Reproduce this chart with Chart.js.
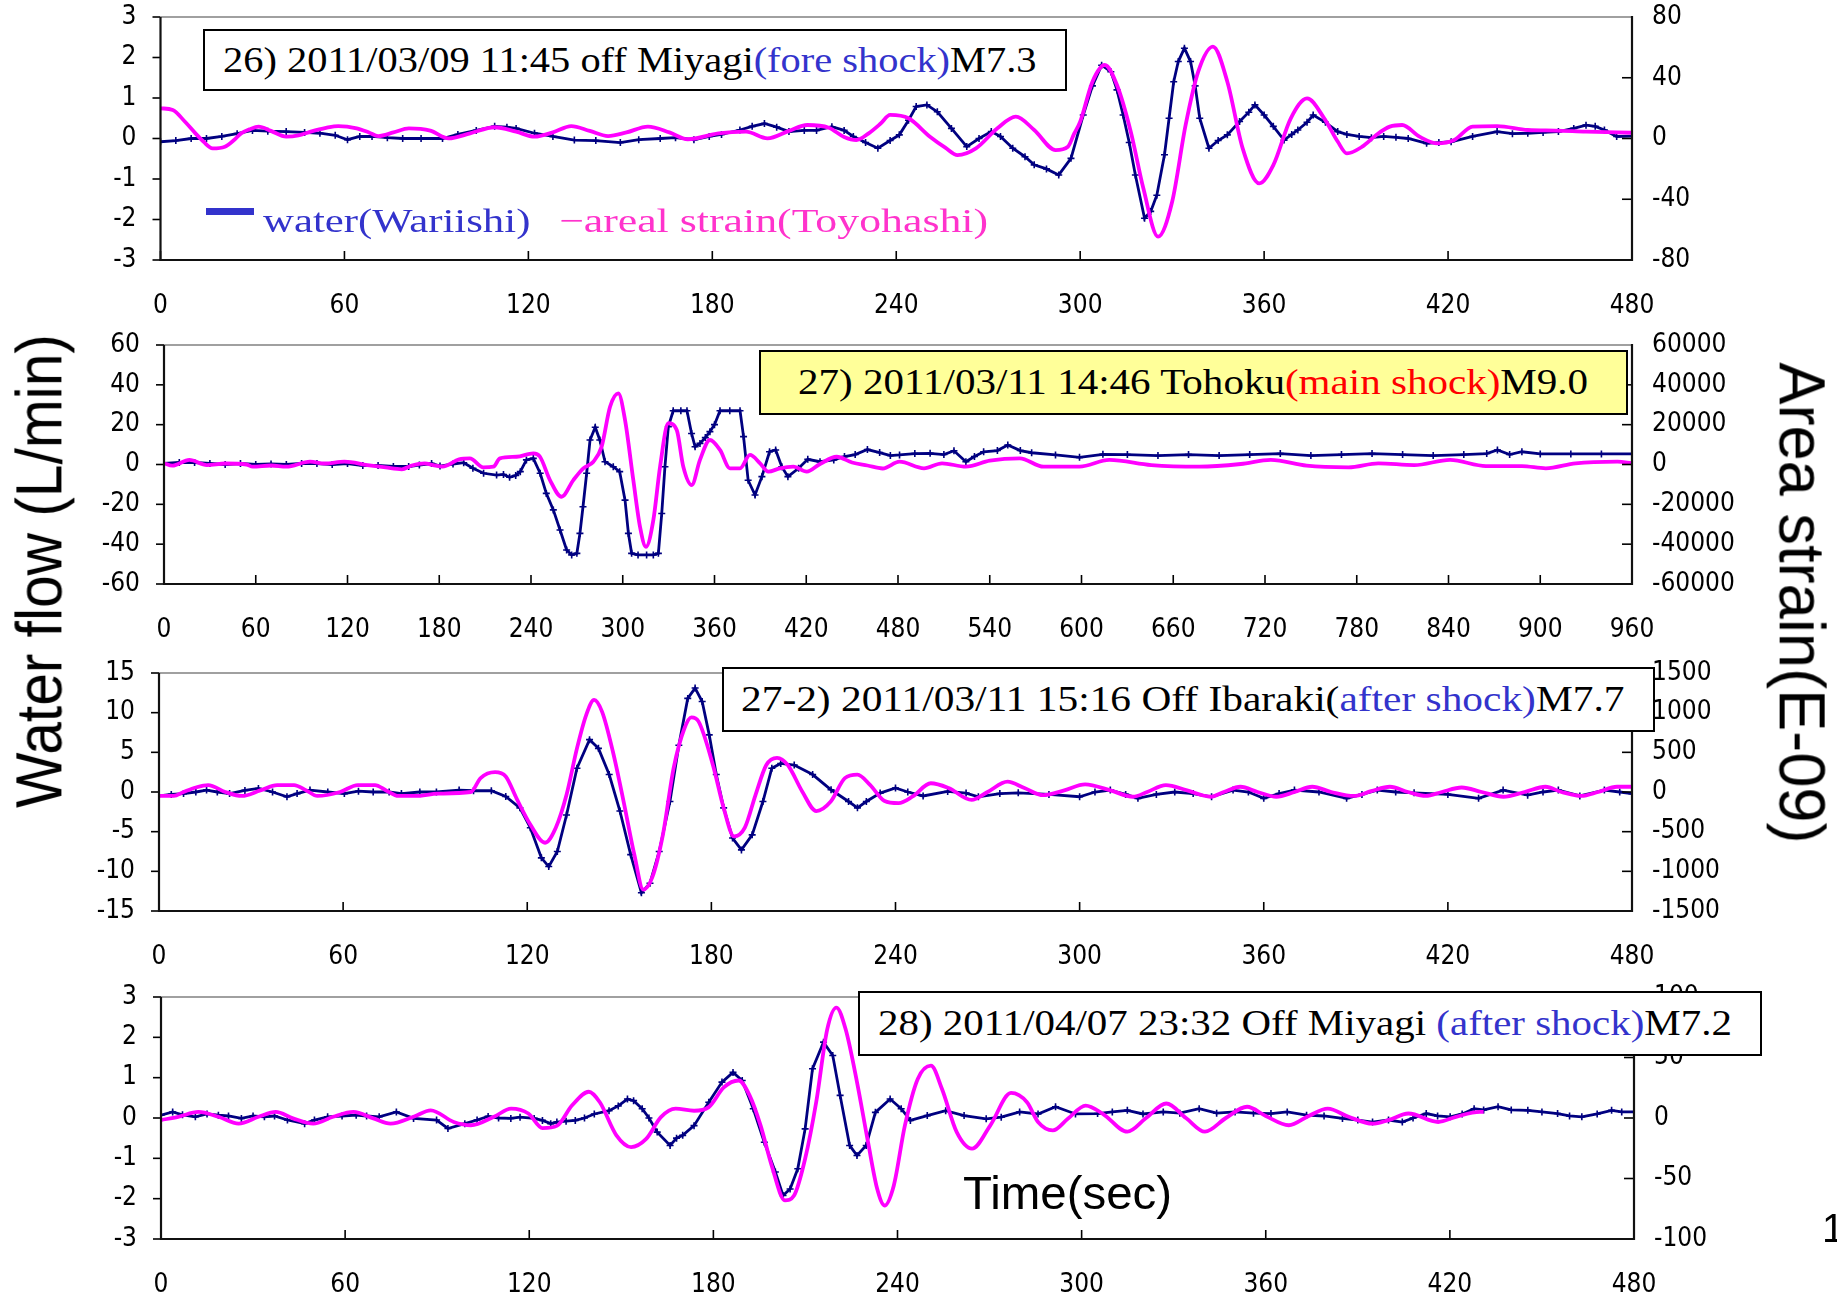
<!DOCTYPE html>
<html><head><meta charset="utf-8">
<script src="https://cdn.jsdelivr.net/npm/chart.js@4.4.1/dist/chart.umd.min.js"></script>
<style>
html,body{margin:0;padding:0;background:#fff;width:1837px;height:1301px;overflow:hidden;position:relative;}
canvas.pc{position:absolute;left:0;}
.box{position:absolute;box-sizing:border-box;border:2px solid #000;background:#fff;}
.fit{position:absolute;white-space:nowrap;font-family:"Liberation Serif","DejaVu Serif",serif;font-size:36px;line-height:1;transform-origin:0 50%;}
.title{position:absolute;white-space:nowrap;font-family:"Liberation Sans",Arial,sans-serif;line-height:1;color:#000;}
</style></head>
<body>
<canvas class="pc" id="c1"></canvas>
<canvas class="pc" id="c2"></canvas>
<canvas class="pc" id="c3"></canvas>
<canvas class="pc" id="c4"></canvas>

<div class="box" style="left:203px;top:29px;width:864px;height:62px;"></div>
<div class="box" style="left:759px;top:350px;width:869px;height:65px;background:#ffff99;"></div>
<div class="box" style="left:722px;top:667px;width:933px;height:65px;"></div>
<div class="box" style="left:858px;top:991px;width:904px;height:65px;"></div>

<span class="fit" data-l="223" data-w="814" data-cy="60">26) 2011/03/09 11:45 off Miyagi<span style="color:#3333cc">(fore shock)</span>M7.3</span>
<span class="fit" data-l="798" data-w="790" data-cy="382">27) 2011/03/11 14:46 Tohoku<span style="color:#ff0000">(main shock)</span>M9.0</span>
<span class="fit" data-l="741" data-w="884" data-cy="699">27-2) 2011/03/11 15:16 Off Ibaraki(<span style="color:#3333cc">after shock)</span>M7.7</span>
<span class="fit" data-l="878" data-w="854" data-cy="1023">28) 2011/04/07 23:32 Off Miyagi <span style="color:#3333cc">(after shock)</span>M7.2</span>

<div style="position:absolute;left:206px;top:208px;width:48px;height:7px;background:#3333cc;"></div>
<span class="fit" data-l="263" data-w="268" data-cy="221" style="color:#3333cc;font-size:34px;">water(Wariishi)</span>
<span class="fit" data-l="559" data-w="429" data-cy="221" style="color:#ff33cc;font-size:34px;">−areal strain(Toyohashi)</span>

<span class="title rot" data-cx="39" data-cy="571" data-len="474" data-rot="-90" style="font-size:64px;">Water flow (L/min)</span>
<span class="title rot" data-cx="1801" data-cy="603" data-len="481" data-rot="90" style="font-size:64px;">Area strain(E-09)</span>
<span class="title fit2" data-l="963" data-w="209" data-cy="1192" style="font-size:47px;">Time(sec)</span>
<span class="title" style="left:1822px;top:1208px;font-size:40px;">1</span>

<script>
// ---------------- DATA ----------------
const xTicks480 = [0,60,120,180,240,300,360,420,480];
const xTicks960 = [0,60,120,180,240,300,360,420,480,540,600,660,720,780,840,900,960];

// Panel 26) water flow (L/min), [sec, value]
const p1Water = [[0,-0.08],[5,-0.05],[10,0],[15,0],[20,0.05],[25,0.12],[30,0.2],[35,0.18],[41,0.17],[47,0.15],[52,0.13],[57,0.08],[61,-0.03],[65,0.05],[69,0.05],[74,0.02],[79,0],[85,0],[92,0],[97,0.1],[103,0.2],[109,0.3],[113,0.28],[116,0.25],[122,0.13],[128,0.05],[135,-0.04],[142,-0.05],[150,-0.1],[156,-0.03],[163,0],[168,0.02],[174,-0.03],[179,0.05],[183,0.1],[189,0.21],[193,0.3],[197,0.37],[201,0.28],[205,0.17],[210,0.2],[214,0.2],[219,0.29],[223,0.2],[226,0.05],[230,-0.1],[234,-0.24],[238,-0.05],[241,0.09],[244,0.45],[246.5,0.79],[250,0.83],[253.4,0.66],[258,0.25],[263,-0.2],[267,0],[271,0.17],[274,0.05],[278,-0.24],[282,-0.45],[285,-0.65],[289,-0.75],[293,-0.9],[297,-0.49],[301,0.58],[304,1.3],[307,1.81],[310,1.65],[312,1.2],[314,0.58],[316,-0.1],[318,-0.9],[321,-1.97],[323,-1.8],[325,-1.4],[327.5,-0.4],[329,0.5],[330.5,1.4],[332,1.9],[334,2.23],[336,1.9],[337.5,1.3],[339,0.5],[342,-0.24],[345,-0.05],[348,0.09],[352,0.42],[355,0.65],[357,0.83],[360,0.58],[363,0.3],[366.5,-0.04],[369,0.1],[371,0.21],[374,0.4],[376,0.58],[380,0.4],[384,0.17],[387,0.1],[391,0.05],[395,0.02],[399,0.05],[403,0.03],[407,0],[413,-0.12],[417,-0.1],[421,-0.08],[428,0.05],[436,0.17],[441,0.12],[446,0.13],[451,0.15],[456,0.17],[461,0.25],[465,0.33],[468,0.3],[471,0.21],[475,0.05],[480,0.06]];
// Panel 26) areal strain (E-09)
const p1Strain = [[0,19.9],[4,18.8],[8,11],[11.4,3.4],[14,-2],[17,-6.5],[21,-5.4],[24,-1],[26.3,3.4],[29,6],[32,7.8],[36,5],[41,1.2],[45,2],[49,4.5],[54,7],[58,8.2],[64,6.7],[68,4],[71,1.6],[76,4],[81,6.7],[88,5.2],[94,0.1],[101,3.4],[109,7.4],[116,4.5],[122,1.2],[128,4],[134,8.2],[140,5],[146,1.6],[152,4],[159,7.8],[166,4],[172,-0.5],[182,3.4],[191,4.5],[198,0.1],[205,5],[211,8.9],[218,7.1],[223,1],[227,-1],[231,3.4],[235,10],[238,15.5],[244,13.3],[251,1.2],[256,-6],[260,-10.9],[266,-6.5],[273,6.7],[279,14.4],[285,5.6],[292,-7.6],[296,-5.4],[298,3],[300,11.1],[304,37.4],[308,48.4],[312,35.2],[316.5,4.5],[320.6,-32.8],[325.4,-64.6],[330,-41.6],[334.4,8.9],[338.5,44],[343.3,60.5],[348,37.4],[353,-6.5],[358.4,-29.6],[363,-17.5],[368.7,13.3],[374,26.4],[379.6,13.3],[384,-2],[387,-9.8],[392,-5.4],[397,3],[401,7.8],[405,8.9],[410.7,1.2],[416.5,-3.2],[422,-1],[428,7.8],[436,8.2],[446,5.6],[455,5.2],[465,4.5],[480,3.8]];

// Panel 27) water flow
const p2Water = [[0,0.5],[10,1],[20,1],[30,0.5],[40,0],[50,0.5],[60,0],[70,0.3],[80,0],[90,0.5],[100,0.5],[110,0],[120,0.5],[130,-0.5],[140,-0.5],[150,-1],[160,-1],[167,-0.25],[175,0.5],[180.5,-0.8],[189,0.25],[196,0.9],[202,-1.9],[209,-4.4],[217.5,-5.3],[222,-5],[226,-6.4],[230,-5.5],[233,-3.6],[237,2.3],[241.5,3.1],[246,-4.4],[250,-14.5],[254.6,-22.8],[259,-32.9],[263.3,-42.9],[266.6,-45.4],[270,-44.6],[272,-34.6],[274,-21.2],[276.4,-4.4],[278.6,12.3],[282,18.7],[285,12.3],[288.4,1.4],[293.8,-1.1],[298,-3.6],[301.5,-17.9],[303.7,-34.6],[305.8,-44.6],[310,-45.4],[315.6,-45.4],[320,-45.4],[323.3,-44.6],[325.5,-24.6],[327.6,-1.1],[329.8,19],[333,27],[338,27],[342,27],[345,15.6],[347.3,8.9],[350.5,10.6],[354,13.5],[357,16.5],[360,20],[363.6,27],[370,27],[376.7,27],[379,14],[382,-7.9],[386.5,-15.3],[391,-6.1],[396,6.4],[400,7.3],[404,-1.1],[408,-6.1],[415,-1.9],[421,2.6],[429,1.4],[438,2.3],[445,4],[452,5],[460,7.5],[468,6],[475,4.5],[481,4.8],[491,5.5],[501,5.6],[510,5],[516.6,6.9],[524.4,1.4],[530,4],[536,6.4],[545,7],[551.8,9.8],[560,7],[567.4,5.9],[583,4.8],[598.7,3.6],[614,5.1],[630,5],[650,4.5],[670,5],[690,4.5],[710,5],[730,5.5],[750,4.5],[770,5],[790,5.5],[810,5],[830,4.5],[850,5],[865,5.5],[872,7.3],[880,5],[888,6.4],[900,5.3],[920,5.3],[940,5.3],[960,5.3]];
// Panel 27) areal strain
const p2Strain = [[0,600],[5.5,-600],[16.6,2300],[28,-300],[40,500],[54,0],[58,-1100],[70,-500],[80,-1100],[95.5,1400],[105,500],[118,1400],[133,-300],[145,-1500],[155.5,-2400],[162,-500],[170.5,600],[176,-300],[182,-1100],[193,2600],[200,3100],[208.8,-1400],[215.4,-1100],[219.7,3100],[230.6,3900],[241.5,5600],[245.9,3900],[252.4,-7800],[260,-16200],[267.7,-7800],[274.2,-1900],[280.8,1400],[286.2,9000],[291.7,29000],[297.1,35700],[301.5,22300],[306.9,-7800],[311.3,-31300],[315.2,-41300],[320,-27900],[324.4,-1100],[329.8,20700],[335.3,17300],[339.6,-1100],[345.1,-10300],[350.5,2300],[357,12300],[363.6,7300],[370.1,-1900],[376.7,-1900],[383.2,4800],[389.8,600],[395.2,-3600],[402.8,-1900],[411.6,-1100],[420.3,-3600],[429,250],[439.9,3900],[450,1000],[460,-500],[470,-2000],[481,1400],[497,-1900],[508.8,600],[524.4,-1100],[540,1900],[559.6,3100],[575.2,-1100],[598.7,-1100],[618.2,2300],[645.6,-300],[677,-1100],[704.2,250],[723.8,2300],[747.2,-600],[774.6,-1400],[794.1,600],[817.6,-300],[841,2300],[864.5,-800],[888,-800],[903.6,-1900],[923.1,600],[950.5,1400],[960,600]];

// Panel 27-2) water flow
const p3Water = [[0,-0.5],[4,-0.3],[8,-0.2],[12,0],[15.5,0.24],[19,0],[23,-0.2],[28,0.2],[32.4,0.45],[37,0],[41.7,-0.6],[45,-0.2],[49.2,0.24],[55,0],[60.4,-0.2],[65,0.1],[69.8,0],[75,0],[79,-0.2],[85,0],[90.4,0],[97.8,0.24],[102.5,0.16],[108.3,0.16],[113,-0.56],[117.6,-2],[121,-4.5],[124.6,-8.3],[127,-9.4],[129.8,-7.5],[132.8,-2.9],[136.2,3],[140.3,6.6],[143.2,5.5],[146.7,2.2],[150.2,-2.4],[153.7,-7.9],[157.2,-12.7],[160,-11.5],[163,-7.5],[166.5,-1.2],[169.4,5.9],[172.3,11.8],[174.7,13.1],[177,11.4],[179.3,7.2],[181.6,2.2],[184,-2],[186.9,-5.8],[189.8,-7.3],[193.3,-5.4],[196.8,-1.2],[199.7,3],[202.6,3.6],[207,3.4],[213,2.2],[219,0.28],[224.7,-1.2],[227.6,-2],[230.5,-1.2],[235,-0.14],[240,0.5],[244,0],[249,-0.5],[257,0.07],[263,-0.14],[267,-0.6],[274,-0.2],[280,-0.1],[290,-0.3],[300,-0.6],[305,0],[310,0.24],[315,-0.3],[319,-0.8],[325,-0.3],[331,0],[337,-0.2],[343,-0.6],[350,0.24],[355,0],[360,-0.8],[365,-0.2],[370,0.24],[378,0],[387,-0.8],[392,-0.3],[397,0.24],[403,0],[409,-0.1],[420,-0.3],[430,-0.8],[438,0.24],[446,-0.4],[451,0],[456,0.24],[463,-0.5],[471,0.24],[476,0],[480,-0.2]];
// Panel 27-2) areal strain
const p3Strain = [[0,-50],[4.8,-50],[8,0],[12,57],[16,87],[21.6,0],[27,-50],[33,20],[38.5,87],[44,87],[48,20],[51.6,-50],[59,0],[64.8,87],[70.4,87],[74,20],[78,-50],[83.5,-50],[91,-20],[101.6,0],[104.8,175],[109.5,250],[113,196],[116.5,-80],[121,-410],[125.8,-640],[129.3,-450],[132.8,-35],[136.2,550],[139.2,970],[141.8,1160],[144.4,1010],[147.9,510],[151.4,-120],[154.9,-790],[157.8,-1230],[160.7,-1080],[164.2,-540],[167.7,300],[171.2,800],[173.5,940],[175.8,890],[180.5,340],[184,-200],[187.4,-560],[190.9,-450],[194.4,-35],[197.9,340],[201.4,430],[204.9,340],[209.6,7],[214.2,-240],[218.9,-120],[223.5,175],[227.6,220],[231.7,90],[236.3,-110],[241,-140],[245.6,-56],[251.5,110],[257.3,50],[264.8,-100],[270,0],[276.5,130],[282,50],[288.1,-40],[295,20],[301.8,95],[310,20],[317.4,-60],[322,0],[328.1,87],[335,20],[342.7,-60],[347,0],[352.4,66],[358,0],[364.1,-60],[370,0],[375.8,66],[382,0],[389.4,-50],[395,10],[401.1,66],[407,0],[412.8,-50],[418,0],[424.5,57],[431,0],[438.1,-60],[445,0],[451.8,66],[457,0],[463.5,-50],[469,0],[475.1,66],[480,66]];

// Panel 28) water flow
const p4Water = [[0,0.07],[3.8,0.15],[7,0.08],[11.2,0.03],[15,0.1],[18.7,0.07],[22,0.05],[26.2,-0.01],[30,0.05],[33.7,0.03],[37,0.05],[41.2,-0.05],[46.8,-0.14],[50,-0.05],[54.3,0.03],[59,0.05],[63.6,0.07],[67,0.05],[71.1,0.03],[76.7,0.15],[82.3,-0.01],[89.8,-0.05],[93.5,-0.26],[99,-0.14],[103,-0.05],[106.6,0.04],[110,0],[114,-0.01],[117,0.02],[121.6,-0.01],[124.3,-0.06],[127,-0.14],[129,-0.1],[132,-0.08],[135,-0.06],[138,0],[141.2,0.1],[146,0.18],[149,0.3],[152,0.47],[154,0.43],[156.8,0.23],[159,0],[161.7,-0.35],[165.9,-0.68],[168,-0.5],[170,-0.43],[173.7,-0.19],[178.5,0.39],[182.8,0.89],[186.4,1.13],[189.4,0.93],[193,0.23],[196.6,-0.6],[200.2,-1.34],[202.7,-1.92],[205,-1.76],[207.5,-1.26],[209.9,-0.27],[212.3,1.22],[215.9,1.88],[218.9,1.55],[221.3,0.56],[224.4,-0.68],[226.8,-0.93],[229.8,-0.68],[232.8,0.14],[237.6,0.47],[241.2,0.23],[244.2,-0.06],[249.7,0.06],[255.7,0.18],[261.7,0.06],[268.9,-0.02],[273.8,0.02],[279.8,0.15],[285.8,0.1],[291.5,0.28],[298,0.1],[305.2,0.11],[310,0.15],[314.9,0.19],[320,0.1],[326.6,0.15],[332,0.12],[338.3,0.23],[344,0.12],[350,0.15],[356,0.12],[361.7,0.11],[367,0.15],[373.3,0.07],[379,0.05],[385,-0.01],[390,-0.05],[394.8,-0.1],[400,-0.05],[404.5,-0.1],[408,0],[412.3,0.11],[416,0.05],[420.1,0.03],[424,0.1],[427.9,0.23],[431,0.2],[435.7,0.28],[440,0.2],[445.4,0.19],[450,0.15],[455.1,0.11],[459,0.05],[463,0.03],[468,0.1],[472.7,0.19],[476,0.15],[480,0.15]];
// Panel 28) areal strain
const p4Strain = [[0,-1.7],[5.6,1],[12.2,5],[18.7,1],[25.3,-4.7],[31.8,1],[37.4,5],[43,-0.3],[49.6,-4.7],[56.1,1],[62.7,5],[69.2,-0.3],[74.8,-4.7],[82.3,1],[87.9,6.3],[95.4,-3.3],[101,-6],[108.5,1],[114.1,7.7],[119.7,3.7],[124.3,-8.3],[129.1,-6.3],[133.9,10.3],[139.4,21.7],[143,13],[148.4,-14.3],[153.2,-24],[158.1,-17.3],[162.9,0.7],[167.7,7.7],[173.7,6],[178.5,9],[183.4,25.3],[188.2,31],[191.8,18.7],[195.4,-6.3],[199,-39.3],[203.3,-68],[206.3,-64],[209.9,-33.7],[213.5,13],[217.1,73.3],[220.1,91.3],[223.1,73.3],[226.8,29.7],[230.4,-20],[233.4,-58.7],[235.8,-72.3],[238.8,-55.7],[242.4,-6.3],[246.6,32.3],[250.9,43.3],[254.5,24],[259.3,-11.7],[264.3,-25.3],[270.2,-6.3],[277,20.7],[282.2,13],[285.8,-3.3],[290.6,-10.3],[295.5,-0.7],[301.3,10.3],[307,3.3],[314.9,-11.3],[321,0],[327.6,12],[334,0],[340.2,-11.3],[347,0],[353.9,9.3],[360,1.7],[367.5,-6],[374,1.7],[380.2,7.7],[387,1],[394.8,-4.7],[400,-1.7],[406.5,3.7],[416.2,-3.3],[422,1],[429.8,5],[431,5]];

// ---------------- LAYOUT ----------------
const W = 1837;
const PANELS = [
  {id:'c1', left:160.5, right:1632, top:17,  bottom:260,  xmax:480, xt:xTicks480, y:[-3,3,1],   y1:[-80,80,40],        water:p1Water, strain:p1Strain},
  {id:'c2', left:164,   right:1632, top:345, bottom:584,  xmax:960, xt:xTicks960, y:[-60,60,20], y1:[-60000,60000,20000], water:p2Water, strain:p2Strain},
  {id:'c3', left:159,   right:1632, top:673, bottom:911,  xmax:480, xt:xTicks480, y:[-15,15,5],  y1:[-1500,1500,500],  water:p3Water, strain:p3Strain},
  {id:'c4', left:161,   right:1634, top:997, bottom:1239, xmax:480, xt:xTicks480, y:[-3,3,1],    y1:[-100,100,50],     water:p4Water, strain:p4Strain}
];
const PADTOP = 22, XH = 70;

function fontAvailable(name){
  const c = document.createElement('canvas').getContext('2d');
  const s = '0123456789-';
  let diff = false;
  ['monospace','serif'].forEach(g=>{
    c.font = '40px '+g; const a = c.measureText(s).width;
    c.font = '40px "'+name+'", '+g; const b = c.measureText(s).width;
    if (Math.abs(a-b) > 0.5) diff = true;
  });
  return diff;
}
let tickFont;
if (fontAvailable('Liberation Sans Narrow')) tickFont = {family:'"Liberation Sans Narrow"', size:31, lineHeight:1.2};
else if (fontAvailable('DejaVu Sans Condensed')) tickFont = {family:'"DejaVu Sans Condensed"', size:26, lineHeight:1.2};
else tickFont = {family:'"Liberation Sans", Arial, sans-serif', size:27, lineHeight:1.2};

const framePlugin = {
  id:'frame',
  afterDraw(chart){
    const {ctx, chartArea:a, scales} = chart;
    const ln=(x1,y1,x2,y2)=>{ctx.beginPath();ctx.moveTo(x1,y1);ctx.lineTo(x2,y2);ctx.stroke();};
    ctx.save();
    ctx.strokeStyle='#000'; ctx.lineWidth=1.6;
    scales.y.ticks.forEach(t=>{const y=scales.y.getPixelForValue(t.value); ln(a.left-8,y,a.left,y);});
    scales.y1.ticks.forEach(t=>{const y=scales.y1.getPixelForValue(t.value); ln(a.right-10,y,a.right,y);});
    scales.x.ticks.forEach(t=>{const x=scales.x.getPixelForValue(t.value); ln(x,a.bottom,x,a.bottom-9);});
    ctx.lineWidth=2.2; ctx.strokeStyle='#a0a0a0';
    ln(a.left,a.top,a.right,a.top);
    ctx.strokeStyle='#111';
    ln(a.left,a.top,a.left,a.bottom+1);
    ln(a.left-1,a.bottom,a.right+1,a.bottom);
    ln(a.right,a.top-1,a.right,a.bottom+1);
    ctx.restore();
  }
};

PANELS.forEach(p=>{
  const cv = document.getElementById(p.id);
  const H0 = (p.bottom - p.top) + PADTOP + XH;
  cv.width = W; cv.height = H0;
  cv.style.width = W+'px'; cv.style.height = H0+'px';
  const chart = new Chart(cv, {
    type:'line',
    data:{datasets:[
      {label:'areal strain', yAxisID:'y1', order:1,
       data:p.strain.map(d=>({x:d[0],y:d[1]})),
       borderColor:'#ff00ff', borderWidth:3.8, pointRadius:0, cubicInterpolationMode:'monotone', fill:false},
      {label:'water', yAxisID:'y', order:2,
       data:p.water.map(d=>({x:d[0],y:d[1]})),
       borderColor:'#000080', borderWidth:2.8, pointStyle:'cross', pointRadius:3.5,
       pointBorderWidth:1.6, pointBorderColor:'#000080', pointBackgroundColor:'#000080', tension:0, fill:false}
    ]},
    options:{
      responsive:false, animation:false, events:[],
      layout:{padding:{top:PADTOP,left:0,right:0,bottom:0}},
      plugins:{legend:{display:false}, tooltip:{enabled:false}},
      scales:{
        x:{type:'linear', min:0, max:p.xmax,
           afterBuildTicks:s=>{s.ticks=p.xt.map(v=>({value:v}));},
           afterFit:s=>{s.height=XH; s.paddingLeft=0; s.paddingRight=0;},
           grid:{display:false}, border:{display:false},
           ticks:{font:tickFont, color:'#000', padding:23, autoSkip:false, maxRotation:0, callback:v=>String(v)}},
        y:{type:'linear', position:'left', min:p.y[0], max:p.y[1],
           afterFit:s=>{s.width=p.left; s.paddingTop=0; s.paddingBottom=0;},
           grid:{display:false}, border:{display:false},
           ticks:{stepSize:p.y[2], font:tickFont, color:'#000', padding:16, autoSkip:false, callback:v=>String(v)}},
        y1:{type:'linear', position:'right', min:p.y1[0], max:p.y1[1],
           afterFit:s=>{s.width=W-p.right; s.paddingTop=0; s.paddingBottom=0;},
           grid:{display:false}, border:{display:false},
           ticks:{stepSize:p.y1[2], font:tickFont, color:'#000', padding:12, autoSkip:false, callback:v=>String(v)}}
      }
    },
    plugins:[framePlugin]
  });
  // place the chart area exactly on the panel's plot rectangle
  let ca = chart.chartArea;
  const topOff = ca.top, botOff = H0 - ca.bottom;
  const H = Math.round(topOff + (p.bottom - p.top) + botOff);
  if (H !== H0) { chart.resize(W, H); }
  ca = chart.chartArea;
  cv.style.top = (p.top - ca.top)+'px';
});

// ---------------- TEXT FITTING ----------------
function fitAll(){
  document.querySelectorAll('.fit, .fit2').forEach(el=>{
    el.style.transform='none';
    const w = el.offsetWidth, h = el.offsetHeight;
    const k = (+el.dataset.w)/w;
    el.style.transformOrigin='0 50%';
    el.style.left = el.dataset.l+'px';
    el.style.top = (+el.dataset.cy - h/2)+'px';
    el.style.transform = 'scaleX('+k+')';
  });
  document.querySelectorAll('.rot').forEach(el=>{
    el.style.transform='none';
    const w = el.offsetWidth, h = el.offsetHeight;
    const k = (+el.dataset.len)/w;
    el.style.left = (+el.dataset.cx - w/2)+'px';
    el.style.top = (+el.dataset.cy - h/2)+'px';
    el.style.transformOrigin='50% 50%';
    el.style.transform = 'rotate('+el.dataset.rot+'deg) scaleX('+k+')';
  });
}
fitAll();
if (document.fonts && document.fonts.ready) document.fonts.ready.then(fitAll);
</script>
</body></html>
